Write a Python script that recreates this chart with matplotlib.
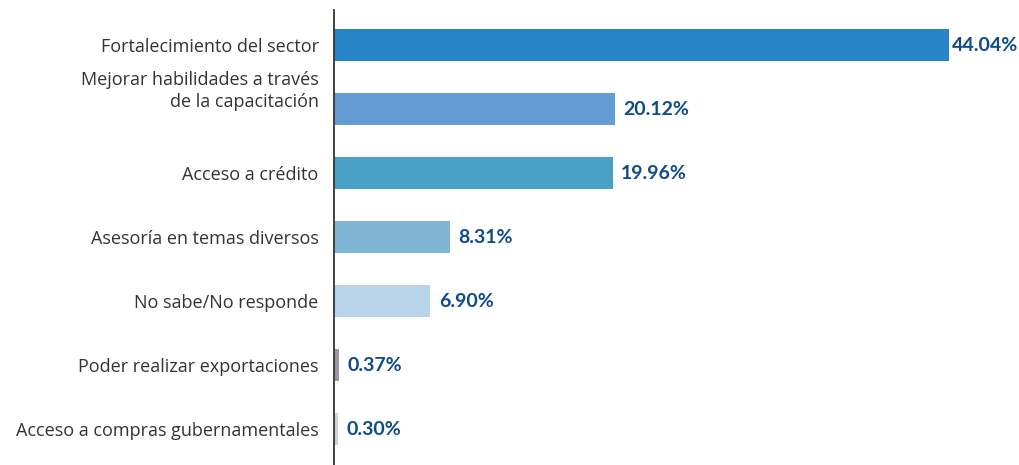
import matplotlib
matplotlib.use("Agg")
import matplotlib.pyplot as plt
from matplotlib.transforms import ScaledTranslation

categories = ["Fortalecimiento del sector",
              "Mejorar habilidades a través\nde la capacitación",
              "Acceso a crédito",
              "Asesoría en temas diversos",
              "No sabe/No responde",
              "Poder realizar exportaciones",
              "Acceso a compras gubernamentales"]
values = [44.04, 20.12, 19.96, 8.31, 6.90, 0.37, 0.30]
labels = ["44.04%", "20.12%", "19.96%", "8.31%", "6.90%", "0.37%", "0.30%"]
colors = ["#2785C8", "#669CD4", "#4AA1C6", "#80B6D3", "#B8D4E8", "#9A9A9C", "#D3D3D3"]

plt.rcParams['font.family'] = ['Open Sans', 'DejaVu Sans']

fig = plt.figure(figsize=(10.2, 4.65), dpi=100)
ax = fig.add_axes([334/1020, 0, 1 - 334/1020, 455/465])

pos = list(range(len(categories)))
ax.barh(pos, values, height=0.5, color=colors)
ax.set_ylim(6.5625, -0.547)
ax.set_xlim(0, 49.14)

for p, v, l in zip(pos, values, labels):
    ax.text(v + 0.2 + (0.4 if v < 40 else 0), p, l, va='center', ha='left',
            fontsize=14, fontweight='bold', color='#0E4A8A',
            family=['Lato', 'DejaVu Sans'])

ax.set_yticks(pos)
ax.set_yticklabels(categories, fontsize=13, color='#333333', linespacing=1.3)
ax.tick_params(axis='y', length=0, pad=11)
ax.set_xticks([])
for s in ['top', 'right', 'bottom']:
    ax.spines[s].set_visible(False)
ax.spines['left'].set_color('#333333')
ax.spines['left'].set_linewidth(1.3)

lab = ax.get_yticklabels()[1]
lab.set_transform(lab.get_transform() + ScaledTranslation(0, 0.22, fig.dpi_scale_trans))

fig.savefig("out.png", dpi=100)
